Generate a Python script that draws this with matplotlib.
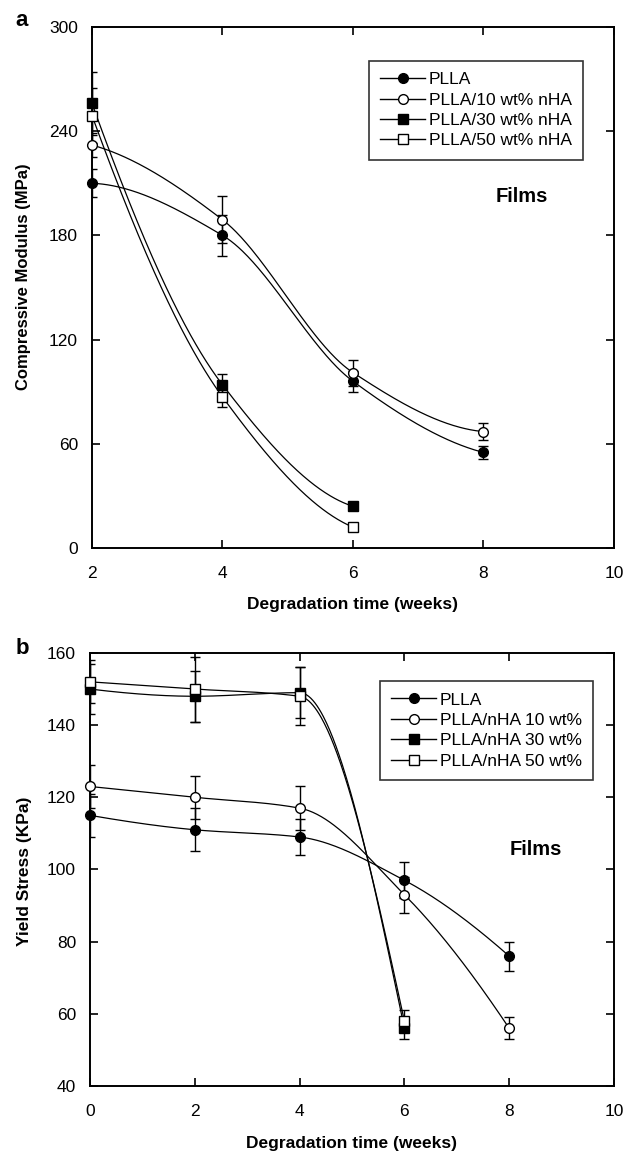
import numpy as np
import matplotlib
matplotlib.use("Agg")
import matplotlib.pyplot as plt
from matplotlib.lines import Line2D

plt.rcParams['font.family'] = ['Liberation Sans', 'DejaVu Sans']

# ---------------- Data: panel a (Compressive modulus, MPa) ----------------
weeks_a = [2, 4, 6, 8]
weeks_a_short = [2, 4, 6]
a_plla = [210, 180, 96, 55]
a_plla_err = [8, 12, 6, 4]
a_10 = [232, 189, 101, 67]
a_10_err = [7, 13.5, 7.5, 5]
a_30 = [256, 94, 24]
a_30_err = [18, 6, 1]
a_50 = [249, 87, 12]
a_50_err = [16, 6, 1]
labels_a = ["PLLA", "PLLA/10 wt% nHA", "PLLA/30 wt% nHA", "PLLA/50 wt% nHA"]

# ---------------- Data: panel b (Yield stress, KPa) ----------------
weeks_b = [0, 2, 4, 6, 8]
weeks_b_short = [0, 2, 4, 6]
b_plla = [115, 111, 109, 97, 76]
b_plla_err = [6, 6, 5, 5, 4]
b_10 = [123, 120, 117, 93, 56]
b_10_err = [6, 6, 6, 5, 3]
b_30 = [150, 148, 149, 56]
b_30_err = [7, 7, 7, 3]
b_50 = [152, 150, 148, 58]
b_50_err = [6, 9, 8, 3]
labels_b = ["PLLA", "PLLA/nHA 10 wt%", "PLLA/nHA 30 wt%", "PLLA/nHA 50 wt%"]


def pchip_curve(x, y, n=300):
    """Smooth monotone cubic (PCHIP) drawing curve through the data points."""
    x = np.asarray(x, float)
    y = np.asarray(y, float)
    h = np.diff(x)
    d = np.diff(y) / h
    m = np.zeros_like(y)
    for k in range(1, len(x) - 1):
        if d[k - 1] * d[k] <= 0:
            m[k] = 0.0
        else:
            w1 = 2 * h[k] + h[k - 1]
            w2 = h[k] + 2 * h[k - 1]
            m[k] = (w1 + w2) / (w1 / d[k - 1] + w2 / d[k])

    def endslope(h0, h1, d0, d1):
        s = ((2 * h0 + h1) * d0 - h0 * d1) / (h0 + h1)
        if np.sign(s) != np.sign(d0):
            s = 0.0
        elif np.sign(d0) != np.sign(d1) and abs(s) > abs(3 * d0):
            s = 3 * d0
        return s

    m[0] = endslope(h[0], h[1], d[0], d[1])
    m[-1] = endslope(h[-1], h[-2], d[-1], d[-2])
    xs = np.linspace(x[0], x[-1], n)
    idx = np.clip(np.searchsorted(x, xs) - 1, 0, len(x) - 2)
    t = (xs - x[idx]) / h[idx]
    h00 = 2 * t**3 - 3 * t**2 + 1
    h10 = t**3 - 2 * t**2 + t
    h01 = -2 * t**3 + 3 * t**2
    h11 = t**3 - t**2
    ys = h00 * y[idx] + h10 * h[idx] * m[idx] + h01 * y[idx + 1] + h11 * h[idx] * m[idx + 1]
    return xs, ys


styles = [
    dict(marker='o', mfc='black'),
    dict(marker='o', mfc='white'),
    dict(marker='s', mfc='black'),
    dict(marker='s', mfc='white'),
]
MS = 7


def draw_panel(ax, series, labels):
    for (x, y, e), st in zip(series, styles):
        xs, ys = pchip_curve(x, y)
        ax.plot(xs, ys, color='black', lw=0.9, zorder=2)
        ax.errorbar(x, y, yerr=e, fmt='none', ecolor='black', elinewidth=1.0,
                    capsize=3.5, capthick=1.0, zorder=2)
        ax.plot(x, y, ls='none', marker=st['marker'], mfc=st['mfc'], mec='black',
                mew=1.0, ms=MS, zorder=4, clip_on=False)
    handles = [Line2D([0], [0], color='black', lw=1.0, marker=st['marker'],
                      mfc=st['mfc'], mec='black', mew=1.0, ms=MS) for st in styles]
    return handles


def style_axes(ax):
    for sp in ax.spines.values():
        sp.set_linewidth(1.4)
    ax.tick_params(direction='in', length=6, width=1.2, top=True, right=True,
                   labelsize=12.5)
    ax.tick_params(axis='y', pad=10)
    ax.tick_params(axis='x', pad=13)


fig = plt.figure(figsize=(6.24, 11.51), dpi=100)

# ---------------- Panel a ----------------
ax1 = fig.add_axes([0.1474, 0.5239, 0.8365, 0.4527])
h1 = draw_panel(ax1, [(weeks_a, a_plla, a_plla_err),
                      (weeks_a, a_10, a_10_err),
                      (weeks_a_short, a_30, a_30_err),
                      (weeks_a_short, a_50, a_50_err)], labels_a)
ax1.set_xlim(2, 10)
ax1.set_ylim(0, 300)
ax1.set_xticks([2, 4, 6, 8, 10])
ax1.set_yticks([0, 60, 120, 180, 240, 300])
style_axes(ax1)
leg1 = ax1.legend(h1, labels_a, loc='upper right', bbox_to_anchor=(0.9406, 0.935),
                  fontsize=12.5, frameon=True, fancybox=False, handlelength=2.6,
                  handletextpad=0.2, labelspacing=0.3, borderpad=0.65,
                  borderaxespad=0.0, numpoints=1)
leg1.get_frame().set_edgecolor('black')
leg1.get_frame().set_linewidth(1.2)
ax1.text(8.59, 202.6, "Films", fontsize=14.5, fontweight='bold', ha='center', va='center')

# ---------------- Panel b ----------------
ax2 = fig.add_axes([0.1442, 0.0565, 0.8397, 0.3762])
h2 = draw_panel(ax2, [(weeks_b, b_plla, b_plla_err),
                      (weeks_b, b_10, b_10_err),
                      (weeks_b_short, b_30, b_30_err),
                      (weeks_b_short, b_50, b_50_err)], labels_b)
ax2.set_xlim(0, 10)
ax2.set_ylim(40, 160)
ax2.set_xticks([0, 2, 4, 6, 8, 10])
ax2.set_yticks([40, 60, 80, 100, 120, 140, 160])
style_axes(ax2)
leg2 = ax2.legend(h2, labels_b, loc='upper right', bbox_to_anchor=(0.96, 0.935),
                  fontsize=12.5, frameon=True, fancybox=False, handlelength=2.6,
                  handletextpad=0.2, labelspacing=0.3, borderpad=0.65,
                  borderaxespad=0.0, numpoints=1)
leg2.get_frame().set_edgecolor('black')
leg2.get_frame().set_linewidth(1.2)
ax2.text(8.51, 105.4, "Films", fontsize=14.5, fontweight='bold', ha='center', va='center')

# ---------------- Labels ----------------
fig.text(0.037, 0.7593, "Compressive Modulus (MPa)", rotation=90, fontsize=12,
         fontweight='bold', ha='center', va='center')
fig.text(0.5657, 0.4752, "Degradation time (weeks)", fontsize=12.5,
         fontweight='bold', ha='center', va='center')
fig.text(0.0385, 0.2433, "Yield Stress (KPa)", rotation=90, fontsize=12.5,
         fontweight='bold', ha='center', va='center')
fig.text(0.5641, 0.0065, "Degradation time (weeks)", fontsize=12.5,
         fontweight='bold', ha='center', va='center')
fig.text(22 / 624, 1 - 21 / 1151, "a", fontsize=16, fontweight='bold', ha='center', va='center')
fig.text(22 / 624, 1 - 648 / 1151, "b", fontsize=16, fontweight='bold', ha='center', va='center')

fig.savefig("out.png", dpi=100)
